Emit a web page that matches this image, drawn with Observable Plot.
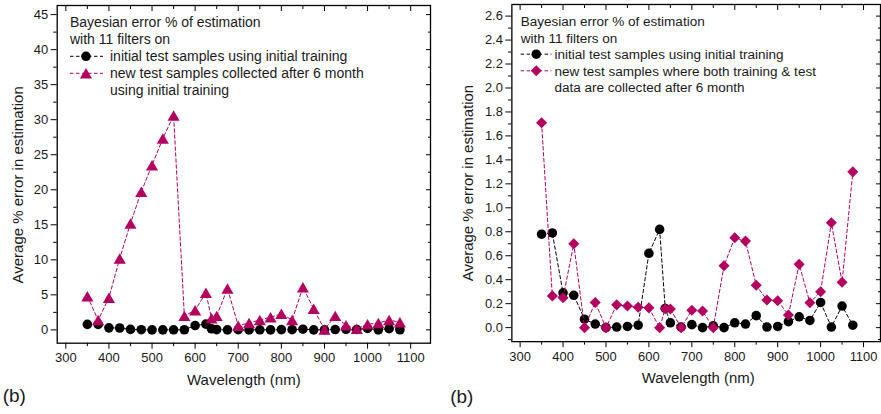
<!DOCTYPE html>
<html><head><meta charset="utf-8">
<script src="https://cdn.jsdelivr.net/npm/d3@7"></script>
<script src="https://cdn.jsdelivr.net/npm/@observablehq/plot@0.6"></script>
<style>
html,body{margin:0;padding:0;background:#fff;overflow:hidden;}
#wrap{position:relative;width:881px;height:414px;overflow:hidden;background:#fff;}
#left{position:absolute;left:0;top:0;}
#right{position:absolute;left:440px;top:0;}
svg{display:block;}
</style></head><body>
<div id="wrap"><div id="left"></div><div id="right"></div></div>
<script>
// ---------- data ----------
const wavelengths = [350,375,400,425,450,475,500,525,550,575,600,625,638,650,675,700,725,750,775,800,825,850,875,900,925,950,975,1000,1025,1050,1075];
const initialTestInitialTraining = [0.78,0.79,0.29,0.27,0.07,0.03,0.0,0.005,0.01,0.02,0.62,0.82,0.16,0.04,0.005,0.025,0.0,0.015,0.0,0.04,0.03,0.10,0.005,0.01,0.05,0.09,0.06,0.21,0.005,0.18,0.02];
const newTestInitialTraining = [4.8,1.4,4.6,10.2,15.2,19.7,23.5,27.3,30.6,2.0,2.8,5.3,1.65,2.0,5.9,0.6,1.0,1.4,1.8,2.3,1.4,6.1,3.0,0.05,2.0,0.65,0.15,0.8,1.0,1.4,1.1];
const newTestNewTraining = [1.71,0.265,0.25,0.70,0.0,0.21,0.0,0.19,0.18,0.17,0.165,0.0,0.158,0.155,0.0,0.145,0.138,0.0,0.517,0.75,0.722,0.353,0.23,0.225,0.106,0.528,0.208,0.30,0.875,0.378,1.30];

const xMajorTicks = [300,400,500,600,700,800,900,1000,1100];
const xMinorTicks = [350,450,550,650,750,850,950,1050];
const leftYMajor = [0,5,10,15,20,25,30,35,40,45];
const leftYMinor = [2.5,7.5,12.5,17.5,22.5,27.5,32.5,37.5,42.5];
const rightYMajor = [0,0.2,0.4,0.6,0.8,1.0,1.2,1.4,1.6,1.8,2.0,2.2,2.4,2.6];
const rightYMinor = [-0.1,0.1,0.3,0.5,0.7,0.9,1.1,1.3,1.5,1.7,1.9,2.1,2.3,2.5];

const xTitle = "Wavelength (nm)";
const yTitle = "Average % error in estimation";
const panelTag = "(b)";
const legendHeader = ["Bayesian error % of estimation", "with 11 filters on"];
const seriesInitialLabel = "initial test samples using initial training";
const leftSecondLabel = ["new test samples collected after 6 month", "using initial training"];
const rightSecondLabel = ["new test samples where both training & test", "data are collected after 6 month"];

// ---------- style ----------
const FONT = '"Liberation Sans", Arial, Helvetica, sans-serif';
const MAGENTA = "#b3005f";
const INK = "#1a1a1a";
const blank = () => "";
const CIRCLE_R = 4.8;

function buildPanel(cfg) {
  const data = wavelengths.map((w, i) => ({w, a: initialTestInitialTraining[i], b: cfg.second[i]}));
  const svg = Plot.plot({
    width: cfg.width, height: 414,
    marginLeft: cfg.marginLeft, marginRight: cfg.marginRight,
    marginTop: cfg.marginTop, marginBottom: 414 - 342.7,
    x: {domain: cfg.xDomain},
    y: {domain: cfg.yDomain},
    style: {fontFamily: FONT, fontSize: "13px", color: INK, background: "white", overflow: "visible"},
    marks: [
      Plot.axisY({ticks: cfg.yMajor, tickSize: 6, tickPadding: 3, tickFormat: cfg.yFormat, label: null, fontSize: 13, stroke: "#000"}),
      Plot.axisY({ticks: cfg.yMinor, tickSize: 3.5, tickFormat: blank, label: null, stroke: "#000"}),
      Plot.axisY({anchor: "right", ticks: cfg.yMajor, tickSize: 5, dx: -5, tickFormat: blank, label: null, stroke: "#000"}),
      Plot.axisY({anchor: "right", ticks: cfg.yMinor, tickSize: 3, dx: -3, tickFormat: blank, label: null, stroke: "#000"}),
      Plot.axisX({ticks: xMajorTicks, tickSize: 6, tickPadding: 4, tickFormat: d3.format("d"), label: null, fontSize: 13, stroke: "#000"}),
      Plot.axisX({ticks: xMinorTicks, tickSize: 3.5, tickFormat: blank, label: null, stroke: "#000"}),
      Plot.axisX({anchor: "top", ticks: xMajorTicks, tickSize: 5, dy: 5, tickFormat: blank, label: null, stroke: "#000"}),
      Plot.axisX({anchor: "top", ticks: xMinorTicks, tickSize: 3, dy: 3, tickFormat: blank, label: null, stroke: "#000"}),
      Plot.frame({stroke: "#000", strokeWidth: 1.3}),
      Plot.line(data, {x: "w", y: "a", stroke: "#000", strokeWidth: 1, strokeDasharray: "3.5,2.5"}),
      Plot.dot(data, {x: "w", y: "a", r: CIRCLE_R, fill: "#000", symbol: "circle"}),
      Plot.line(data, {x: "w", y: "b", stroke: MAGENTA, strokeWidth: 1, strokeDasharray: "3.5,2.5"}),
      Plot.dot(data, {x: "w", y: "b", r: cfg.r2, fill: MAGENTA, symbol: cfg.symbolName, dy: cfg.symDy}),
      Plot.text([xTitle], {frameAnchor: "bottom", dx: cfg.xTitleDx, dy: 37, fontSize: 15, lineAnchor: "middle", fill: INK}),
      Plot.text([yTitle], {frameAnchor: "left", rotate: -90, dx: cfg.yTitleDx, dy: cfg.yTitleDy, fontSize: 15, lineAnchor: "middle", textAnchor: "middle", fill: INK}),
      Plot.text([panelTag], {frameAnchor: "bottom-left", textAnchor: "start", lineAnchor: "middle", dx: cfg.tagDx, dy: cfg.tagDy, fontSize: 19, fill: INK})
    ]
  });
  drawLegend(svg, cfg.legend);
  return svg;
}

function drawLegend(svg, L) {
  const g = d3.select(svg).append("g")
    .attr("font-family", FONT).attr("font-size", L.fontSize).attr("fill", INK)
    .attr("text-anchor", "start").style("text-anchor", "start");
  L.lines.forEach((ln, i) => {
    const y = L.baseline0 + i * L.lineGap;
    g.append("text").attr("x", ln.indent ? L.entryX : L.textX).attr("y", y)
      .attr("text-anchor", "start").text(ln.text);
    if (ln.symbol) {
      const cy = y - L.symOffset;
      g.append("line").attr("x1", L.textX).attr("x2", L.lineEnd).attr("y1", cy).attr("y2", cy)
        .attr("stroke", ln.color).attr("stroke-width", 1).attr("stroke-dasharray", "3.5,2.5");
      g.append("path").attr("d", d3.symbol(ln.symbol, Math.PI * ln.r * ln.r)())
        .attr("transform", `translate(${L.symX},${cy + (ln.dy || 0)})`).attr("fill", ln.color);
    }
  });
}

const left = buildPanel({
  width: 440, marginLeft: 56.7, marginRight: 10, marginTop: 5,
  xDomain: [280, 1146], yDomain: [-1.9, 46.3],
  yMajor: leftYMajor, yMinor: leftYMinor, yFormat: d3.format("d"),
  second: newTestInitialTraining, symbolName: "triangle", r2: 4.5, symDy: 1.75,
  xTitleDx: 0, yTitleDx: -39, yTitleDy: 10.5, tagDx: -54.5, tagDy: 53,
  legend: {
    fontSize: 14, baseline0: 27, lineGap: 17, textX: 70, entryX: 110, lineEnd: 103, symX: 86, symOffset: 4.7,
    lines: [
      {text: legendHeader[0]},
      {text: legendHeader[1]},
      {text: seriesInitialLabel, indent: true, symbol: d3.symbolCircle, color: "#000", r: CIRCLE_R},
      {text: leftSecondLabel[0], indent: true, symbol: d3.symbolTriangle, color: MAGENTA, r: 4.5, dy: 1.75},
      {text: leftSecondLabel[1], indent: true}
    ]
  }
});
document.getElementById("left").appendChild(left);

const right = buildPanel({
  width: 443, marginLeft: 71.7, marginRight: 1, marginTop: 4,
  xDomain: [280.8, 1139.5], yDomain: [-0.117, 2.697],
  yMajor: rightYMajor, yMinor: rightYMinor, yFormat: d3.format(".1f"),
  second: newTestNewTraining, symbolName: "diamond2", r2: 5.0, symDy: 0,
  xTitleDx: 2, yTitleDx: -43.5, yTitleDy: 10, tagDx: -62, tagDy: 55.5,
  legend: {
    fontSize: 13.6, baseline0: 26, lineGap: 16.7, textX: 81, entryX: 115, lineEnd: 112, symX: 96.7, symOffset: 5,
    lines: [
      {text: legendHeader[0]},
      {text: legendHeader[1]},
      {text: seriesInitialLabel, indent: true, symbol: d3.symbolCircle, color: "#000", r: CIRCLE_R},
      {text: rightSecondLabel[0], indent: true, symbol: d3.symbolDiamond2, color: MAGENTA, r: 5.0},
      {text: rightSecondLabel[1], indent: true}
    ]
  }
});
document.getElementById("right").appendChild(right);
</script>
</body></html>
